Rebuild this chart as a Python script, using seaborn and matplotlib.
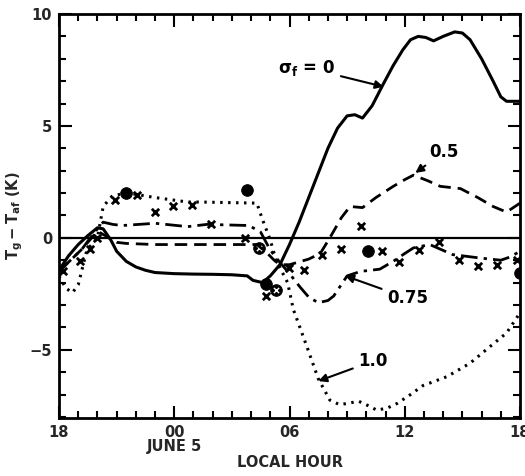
import numpy as np
import pandas as pd
import matplotlib
matplotlib.use("Agg")
import matplotlib.pyplot as plt
import seaborn as sns

# hours after 18:00 on June 4
h0 = [0, 0.5, 1.0, 1.5, 2.0, 2.3, 2.7, 3.0, 3.5, 4.0, 4.5, 5.0, 6.0, 7.0, 8.0, 9.0, 9.8,
      10.1, 10.6, 11.0, 11.5, 12.0, 12.5, 13.0, 13.5, 14.0, 14.5, 15.0, 15.4, 15.8, 16.3,
      16.9, 17.4, 17.9, 18.3, 18.7, 19.1, 19.5, 20.0, 20.6, 21.0, 21.4, 22.0, 22.6, 23.0,
      23.3, 24.0]
v0 = [-1.45, -0.8, -0.3, 0.1, 0.45, 0.4, -0.1, -0.6, -1.05, -1.3, -1.45, -1.55, -1.6,
      -1.62, -1.63, -1.65, -1.7, -1.9, -2.0, -1.7, -1.2, -0.3, 0.7, 1.8, 2.9, 4.0, 4.9,
      5.45, 5.5, 5.35, 5.9, 6.9, 7.7, 8.4, 8.85, 9.0, 8.95, 8.8, 9.0, 9.2, 9.15, 8.85,
      8.0, 7.0, 6.3, 6.1, 6.1]

h05 = [0, 0.6, 1.2, 1.6, 2.0, 2.4, 3.0, 3.5, 5.0, 7.0, 9.0, 10.3, 10.8, 11.2, 11.5, 12.0,
       12.4, 13.0, 13.6, 14.1, 14.7, 15.15, 15.8, 16.5, 17.4, 18.0, 18.45, 19.2, 19.85,
       20.9, 21.8, 22.6, 23.3, 24.0]
v05 = [-1.5, -1.0, -0.5, -0.1, 0.3, 0.1, -0.2, -0.25, -0.3, -0.3, -0.3, -0.3, -0.65,
       -1.0, -1.2, -1.2, -1.1, -0.95, -0.7, 0.0, 0.9, 1.4, 1.35, 1.8, 2.3, 2.6, 2.8, 2.55,
       2.3, 2.2, 1.8, 1.4, 1.15, 1.55]

h075 = [0, 0.6, 1.2, 1.8, 2.3, 2.8, 3.3, 5.0, 6.7, 7.7, 9.9, 10.5, 11.0, 11.5, 12.0, 12.55,
        13.0, 13.5, 14.0, 14.3, 15.0, 15.7, 16.7, 17.4, 18.0, 18.45, 19.3, 20.5, 21.9,
        23.0, 23.5, 24.0]
v075 = [-1.5, -1.0, -0.5, 0.2, 0.7, 0.6, 0.55, 0.65, 0.5, 0.6, 0.55, 0.25, -0.55, -1.1,
        -1.6, -2.2, -2.65, -2.9, -2.8, -2.6, -1.7, -1.5, -1.4, -1.05, -0.7, -0.45, -0.3,
        -0.75, -0.9, -1.0, -0.85, -0.6]

h10 = [0, 0.35, 0.7, 1.0, 1.45, 2.0, 2.3, 2.75, 3.2, 3.6, 5.0, 6.7, 7.35, 10.3, 10.6, 11.0,
       11.3, 11.9, 12.2, 12.9, 13.5, 14.1, 14.6, 15.0, 15.6, 16.1, 16.55, 17.1, 17.6,
       18.3, 18.95, 20.2, 21.4, 22.45, 23.3, 24.0]
v10 = [-1.7, -2.25, -2.45, -2.1, -0.55, 0.0, 1.4, 1.85, 1.95, 2.0, 1.8, 1.6, 1.6, 1.55,
       0.8, -0.1, -1.0, -2.0, -3.2, -4.85, -6.3, -7.25, -7.45, -7.4, -7.3, -7.5, -7.7,
       -7.6, -7.4, -7.0, -6.6, -6.2, -5.6, -4.85, -4.25, -3.35]

# observations
cross_h = [0.2, 1.1, 1.6, 2.0, 2.9, 4.05, 5.0, 5.95, 6.9, 7.9, 9.7, 10.8, 11.95, 12.75,
           13.7, 14.7, 15.7, 16.8, 17.7, 18.75, 19.8, 20.8, 21.8, 22.8, 23.85]
cross_v = [-1.5, -1.05, -0.5, 0.0, 1.7, 1.9, 1.15, 1.4, 1.45, 0.6, 0.0, -2.6, -1.35,
           -1.45, -0.75, -0.5, 0.55, -0.6, -1.1, -0.55, -0.2, -1.0, -1.25, -1.2, -1.0]
dot_h = [3.5, 9.8, 10.8, 16.1, 24.0]
dot_v = [2.0, 2.15, -2.05, -0.6, -1.55]
odot_h = [10.4, 11.3]
odot_v = [-0.45, -2.35]

xtick_pos = [0, 6, 12, 18, 24]
xtick_labels = ["18", "00\nJUNE 5", "06", "12", "18"]
ytick_pos = [-5, 0, 5, 10]
ytick_labels = ["\u22125", "0", "5", "10"]

sns.set_style("white")
plt.rcParams['font.family'] = ['DejaVu Sans']
plt.rcParams['font.weight'] = 'bold'
plt.rcParams['mathtext.default'] = 'bf'

fig = plt.figure(figsize=(5.25, 4.76), dpi=100)
ax = fig.add_axes([0.1124, 0.1218, 0.8781, 0.8488])

ax.axhline(0, color='black', lw=1.6, zorder=1)

sns.lineplot(x=h0, y=v0, ax=ax, color='black', lw=2.2, sort=False)
sns.lineplot(x=h05, y=v05, ax=ax, color='black', lw=2.0, sort=False, linestyle=(0, (4.5, 2.5)))
sns.lineplot(x=h075, y=v075, ax=ax, color='black', lw=2.0, sort=False,
             linestyle=(0, (6, 2.2, 1.2, 2.2)))
sns.lineplot(x=h10, y=v10, ax=ax, color='black', lw=2.2, sort=False, linestyle=(0, (0.8, 1.8)))

sns.scatterplot(x=cross_h, y=cross_v, ax=ax, marker='x', s=28, color='black', linewidth=2.0)
sns.scatterplot(x=dot_h, y=dot_v, ax=ax, marker='o', s=70, color='black', edgecolor='black')
sns.scatterplot(x=odot_h, y=odot_v, ax=ax, marker='o', s=70, color='black', edgecolor='black')
sns.scatterplot(x=odot_h, y=odot_v, ax=ax, marker='x', s=14, color='white', linewidth=1.0)

ax.set_xlim(0, 24)
ax.set_ylim(-8.05, 10)
ax.set_xticks(xtick_pos)
ax.set_xticklabels(xtick_labels, fontsize=10.5, fontweight='bold', linespacing=0.9)
ax.set_xticks(np.arange(0, 25, 1), minor=True)
ax.set_yticks(ytick_pos)
ax.set_yticklabels(ytick_labels, fontsize=10.5, fontweight='bold')
ax.set_yticks(np.arange(-8, 11, 1), minor=True)
ax.tick_params(which='both', direction='in', top=True, right=True, bottom=True, left=True,
               width=1.5, color='black')
ax.tick_params(which='major', length=9, pad=5)
ax.tick_params(which='minor', length=5)
for s in ax.spines.values():
    s.set_linewidth(2.0)
    s.set_color('black')

ax.set_xlabel("LOCAL HOUR", fontsize=10.5, fontweight='bold', labelpad=1)
ax.set_ylabel(r"$T_g - T_{af}$ (K)", fontsize=10.5, fontweight='bold', labelpad=3)

ann_kw = dict(fontsize=12, fontweight='bold', color='black', va='center',
              arrowprops=dict(arrowstyle='-|>', color='black', lw=1.5, mutation_scale=12,
                              shrinkA=2, shrinkB=0))
ax.annotate(r"$\sigma_f$ = 0", xy=(16.9, 6.75), xytext=(11.4, 7.6), ha='left', **ann_kw)
ax.annotate("0.5", xy=(18.55, 2.9), xytext=(19.3, 3.85), ha='left', **ann_kw)
ax.annotate("0.75", xy=(14.9, -1.7), xytext=(17.1, -2.7), ha='left', **ann_kw)
ax.annotate("1.0", xy=(13.5, -6.4), xytext=(15.6, -5.5), ha='left', **ann_kw)

fig.savefig("out.png", dpi=100)
